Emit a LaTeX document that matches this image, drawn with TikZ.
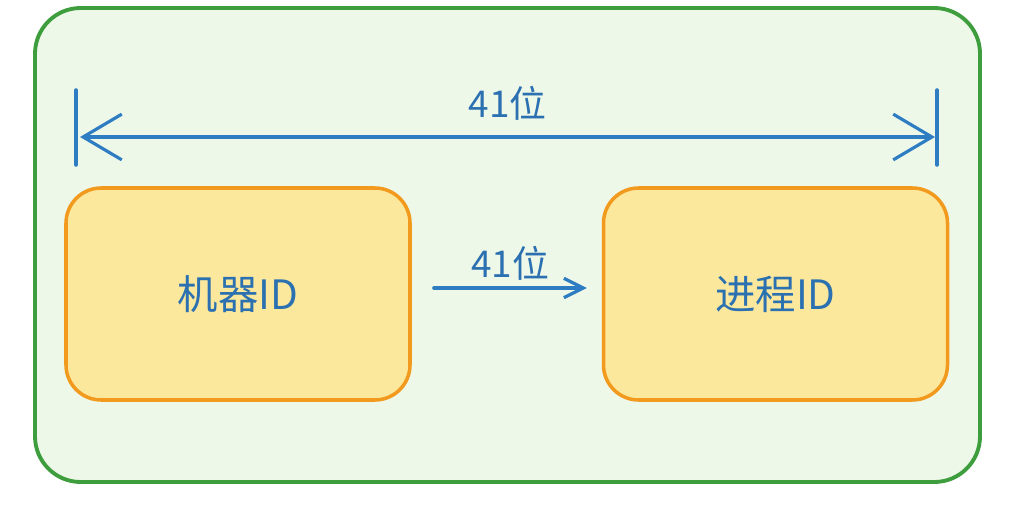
\documentclass[tikz,border=0pt]{standalone}
\usepackage{fontspec}
\setmainfont{Noto Sans CJK SC}
\usetikzlibrary{arrows.meta,positioning,calc}
\definecolor{frame}{HTML}{3E9E3E}
\definecolor{framebg}{HTML}{EEF8E9}
\definecolor{boxline}{HTML}{F29A1E}
\definecolor{boxbg}{HTML}{FCE89C}
\definecolor{ink}{HTML}{2B70B0}
\definecolor{arrowc}{HTML}{2E7DC2}

\begin{document}
\begin{tikzpicture}[
  >={Straight Barb[length=11pt,width=11pt]},
  outer/.style={draw=frame, fill=framebg, line width=2.2pt, rounded corners=26pt},
  field/.style={draw=boxline, fill=boxbg, line width=2pt, rounded corners=20pt, minimum width=6.88cm, minimum height=4.24cm, align=center, font=\fontsize{23}{26}\selectfont, text=ink},
  arr/.style={->, line width=1.8pt, color=arrowc, line cap=round},
  bigtip/.style={{Straight Barb[length=22pt,width=26pt]}-{Straight Barb[length=22pt,width=26pt]}},
  bar/.style={line width=2pt, color=arrowc, line cap=round},
  lbl/.style={font=\fontsize{21}{24}\selectfont, text=ink},
]
\useasboundingbox[fill=white] (0,0) rectangle (20.3,10.1);

\node[outer, minimum width=18.9cm, minimum height=9.48cm] (bg) at (10.15,5.2) {};

\node[field] (m) at (4.76,4.22) {机器ID};
\node[field] (p) at (15.51,4.22) {进程ID};

% total width
\coordinate (l) at (1.6,7.36);
\coordinate (r) at (18.7,7.36);
\draw[bar] ($(l)+(-0.08,-0.56)$) -- ($(l)+(-0.08,0.94)$);
\draw[bar] ($(r)+(0.04,-0.56)$) -- ($(r)+(0.04,0.94)$);
\draw[arr, bigtip] (l) -- node[lbl, above=0.18cm] (top) {41位} (r);

% between fields
\draw[arr] ([xshift=0.44cm,yshift=0.12cm]m.east) -- node[lbl, above=0.0cm] (mid) {41位} ([xshift=-0.3cm,yshift=0.12cm]p.west);

\end{tikzpicture}
\end{document}
